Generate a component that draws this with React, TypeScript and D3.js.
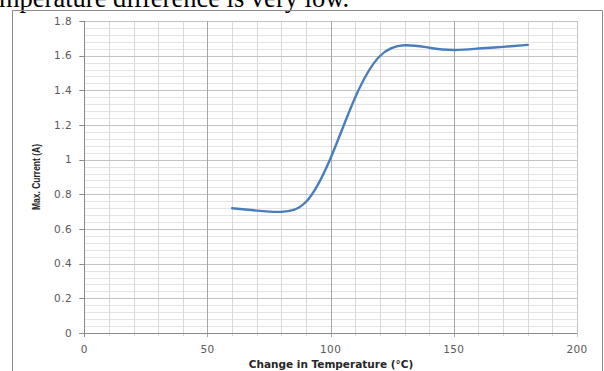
import React from "react";
import * as d3 from "d3";

// Measured maximum current against temperature change
const temperatures = [60, 70, 80, 90, 100, 110, 120, 130, 140, 150, 160, 170, 180];
const maxCurrent = [0.72, 0.706, 0.699, 0.757, 1.01, 1.36, 1.598, 1.66, 1.646, 1.633, 1.641, 1.651, 1.662];

const xTicks = [0, 50, 100, 150, 200];
const yTicks = [0, 0.2, 0.4, 0.6, 0.8, 1, 1.2, 1.4, 1.6, 1.8];
const xTitle = "Change in Temperature (°C)";
const yTitle = "Max. Current (A)";
const caption = "mperature difference is very low.";

const W = 604;
const H = 371;
const plot = { left: 84.3, right: 577, top: 21, bottom: 333 };

export default function App() {
  const x = d3.scaleLinear().domain([0, 200]).range([plot.left, plot.right]);
  const y = d3.scaleLinear().domain([0, 1.8]).range([plot.bottom, plot.top]);

  const xMinor = d3.range(0, 201, 10);
  const yMinor = d3.range(0, 46).map((i) => i * 0.04);

  const line = d3
    .line<number>()
    .x((_, i) => x(temperatures[i]))
    .y((d) => y(d))
    .curve(d3.curveNatural);

  const yLabelFmt = (v: number) => (v === 0 || v === 1 ? String(v) : v.toFixed(1));

  return (
    <svg
      width={W}
      height={H}
      style={{ position: "absolute", left: 0, top: 0, background: "#fff" }}
    >
      <text
        x={-1}
        y={7}
        fontFamily="'Liberation Serif', 'Times New Roman', serif"
        fontSize={26.5}
        fill="#000"
      >
        {caption}
      </text>

      {/* chart frame */}
      <path
        d={`M12.5,${H + 2} V10.5 H602.5 V${H + 2}`}
        fill="none"
        stroke="#8c8c8c"
        strokeWidth={1}
      />

      {/* minor horizontal grid */}
      {yMinor.map((v, i) =>
        i % 5 === 0 ? null : (
          <line
            key={"hy" + i}
            x1={plot.left}
            x2={plot.right}
            y1={Math.round(y(v)) + 0.5}
            y2={Math.round(y(v)) + 0.5}
            stroke="#e3e3e3"
            strokeWidth={1}
          />
        )
      )}
      {/* minor vertical grid */}
      {xMinor.map((v) =>
        v % 50 === 0 ? null : (
          <line
            key={"vx" + v}
            x1={Math.round(x(v)) + 0.5}
            x2={Math.round(x(v)) + 0.5}
            y1={plot.top}
            y2={plot.bottom + 3}
            stroke="#d9d9d9"
            strokeWidth={1}
          />
        )
      )}
      {/* major horizontal grid */}
      {yTicks.slice(1).map((v) => (
        <line
          key={"Hy" + v}
          x1={plot.left}
          x2={plot.right}
          y1={Math.round(y(v)) + 0.5}
          y2={Math.round(y(v)) + 0.5}
          stroke="#c4c4c4"
          strokeWidth={1}
        />
      ))}
      {/* major vertical grid */}
      {xTicks.slice(1).map((v) => (
        <line
          key={"Vx" + v}
          x1={Math.round(x(v)) + 0.5}
          x2={Math.round(x(v)) + 0.5}
          y1={plot.top}
          y2={plot.bottom + 4}
          stroke={v === 200 ? "#c4c4c4" : "#a6a6a6"}
          strokeWidth={1}
        />
      ))}

      {/* axes */}
      <line
        x1={plot.left - 5}
        x2={plot.right}
        y1={plot.bottom + 0.5}
        y2={plot.bottom + 0.5}
        stroke="#8a8a8a"
      />
      <line
        x1={Math.round(plot.left) + 0.5}
        x2={Math.round(plot.left) + 0.5}
        y1={plot.top}
        y2={plot.bottom + 4}
        stroke="#8a8a8a"
      />
      {yTicks.map((v) => (
        <line
          key={"ty" + v}
          x1={plot.left - 5}
          x2={plot.left}
          y1={Math.round(y(v)) + 0.5}
          y2={Math.round(y(v)) + 0.5}
          stroke="#8a8a8a"
        />
      ))}

      {/* tick labels */}
      {yTicks.map((v) => (
        <text
          key={"ly" + v}
          x={72}
          y={y(v) + 3.5}
          textAnchor="end"
          fontFamily="'DejaVu Sans', sans-serif"
          fontSize={10.5}
          letterSpacing={0.4}
          fill="#595959"
        >
          {yLabelFmt(v)}
        </text>
      ))}
      {xTicks.map((v) => (
        <text
          key={"lx" + v}
          x={x(v)}
          y={352.5}
          textAnchor="middle"
          fontFamily="'DejaVu Sans', sans-serif"
          fontSize={10.5}
          letterSpacing={0.4}
          fill="#595959"
        >
          {v}
        </text>
      ))}

      {/* axis titles */}
      <text
        x={331}
        y={367.5}
        textAnchor="middle"
        fontFamily="'DejaVu Sans', sans-serif"
        fontWeight="bold"
        fontSize={10.5}
        fill="#262626"
      >
        {xTitle}
      </text>
      <text
        transform="translate(39.5,177) rotate(-90)"
        textAnchor="middle"
        fontFamily="'Liberation Sans', Arial, sans-serif"
        fontWeight="bold"
        fontSize={10.5}
        textLength={66}
        lengthAdjust="spacingAndGlyphs"
        fill="#262626"
      >
        {yTitle}
      </text>

      {/* series */}
      <path
        d={line(maxCurrent) ?? ""}
        fill="none"
        stroke="#4a7ebb"
        strokeWidth={2.4}
        strokeLinecap="round"
      />
    </svg>
  );
}
